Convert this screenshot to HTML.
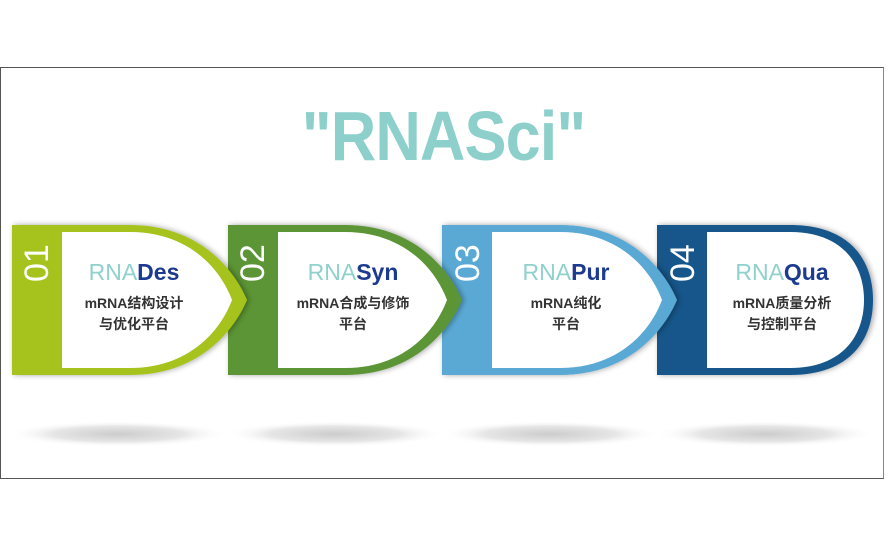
<!DOCTYPE html>
<html><head><meta charset="utf-8"><style>
body{margin:0;background:#fff;width:888px;height:549px;overflow:hidden;position:relative;font-family:"Liberation Sans","Noto Sans CJK SC",sans-serif}
.frame{position:absolute;left:0;top:67px;width:884px;height:412px;border:1px solid #555;border-right-color:#888;box-sizing:border-box}
.title{position:absolute;left:0;width:888px;top:98px;text-align:center;font-weight:bold;font-size:70px;color:#8ccfcb;line-height:76px;letter-spacing:-1px}
.title span{display:inline-block;transform:scaleX(0.9)}
.lab{position:absolute;text-align:center;width:140px}
.h{font-size:23px;line-height:26px;color:#8fd1cd}
.h b{color:#1c3b90;font-weight:bold}
.s{font-size:14px;font-weight:bold;color:#333;line-height:21px;margin-top:8px}
.num{position:absolute;color:#fff;font-size:34px;transform:rotate(-90deg);transform-origin:left top;line-height:34px}
</style></head><body>
<div class="frame"></div>
<div class="title"><span>"RNASci"</span></div>
<svg width="888" height="549" style="position:absolute;left:0;top:0">
<defs>
<radialGradient id="sh"><stop offset="0" stop-color="#ccc"/><stop offset="0.6" stop-color="#e6e6e6"/><stop offset="1" stop-color="#fff" stop-opacity="0"/></radialGradient>
<filter id="ds"><feDropShadow dx="2" dy="0" stdDeviation="3" flood-opacity="0.35"/></filter>
</defs>
<ellipse cx="118" cy="434" rx="110" ry="13" fill="url(#sh)"/>
<ellipse cx="335" cy="434" rx="110" ry="13" fill="url(#sh)"/>
<ellipse cx="550" cy="434" rx="110" ry="13" fill="url(#sh)"/>
<ellipse cx="765" cy="434" rx="110" ry="13" fill="url(#sh)"/>
<g filter="url(#ds)">
<path d="M657,225 H790 C850,225 873,260 873,300 C873,340 850,375 790,375 H657 Z" fill="#17578a"/>
<path d="M707,232 H790 C843,232 864,265 864,300 C864,335 843,368 790,368 H707 Z" fill="#fff"/>
</g>
<g filter="url(#ds)">
<path d="M442,225 H560 C625,225 662,265 677,300 C662,335 625,375 560,375 H442 Z" fill="#5aa9d5"/>
<path d="M492,232 H560 C618,232 650,268 662,300 C650,332 618,368 560,368 H492 Z" fill="#fff"/>
</g>
<g filter="url(#ds)">
<path d="M228,225 H345 C410,225 447,265 462,300 C447,335 410,375 345,375 H228 Z" fill="#5b9536"/>
<path d="M278,232 H345 C403,232 435,268 447,300 C435,332 403,368 345,368 H278 Z" fill="#fff"/>
</g>
<g filter="url(#ds)">
<path d="M12,225 H130 C195,225 232,265 247,300 C232,335 195,375 130,375 H12 Z" fill="#a6c21e"/>
<path d="M62,232 H130 C188,232 220,268 232,300 C220,332 188,368 130,368 H62 Z" fill="#fff"/>
</g>
</svg>
<div class="num" style="left:20px;top:282px">01</div>
<div class="num" style="left:236px;top:282px">02</div>
<div class="num" style="left:451px;top:282px">03</div>
<div class="num" style="left:666px;top:282px">04</div>
<div class="lab" style="left:64px;top:259px"><div class="h">RNA<b>Des</b></div><div class="s">mRNA结构设计<br>与优化平台</div></div>
<div class="lab" style="left:283px;top:259px"><div class="h">RNA<b>Syn</b></div><div class="s">mRNA合成与修饰<br>平台</div></div>
<div class="lab" style="left:496px;top:259px"><div class="h">RNA<b>Pur</b></div><div class="s">mRNA纯化<br>平台</div></div>
<div class="lab" style="left:712px;top:259px"><div class="h">RNA<b>Qua</b></div><div class="s">mRNA质量分析<br>与控制平台</div></div>
</body></html>
